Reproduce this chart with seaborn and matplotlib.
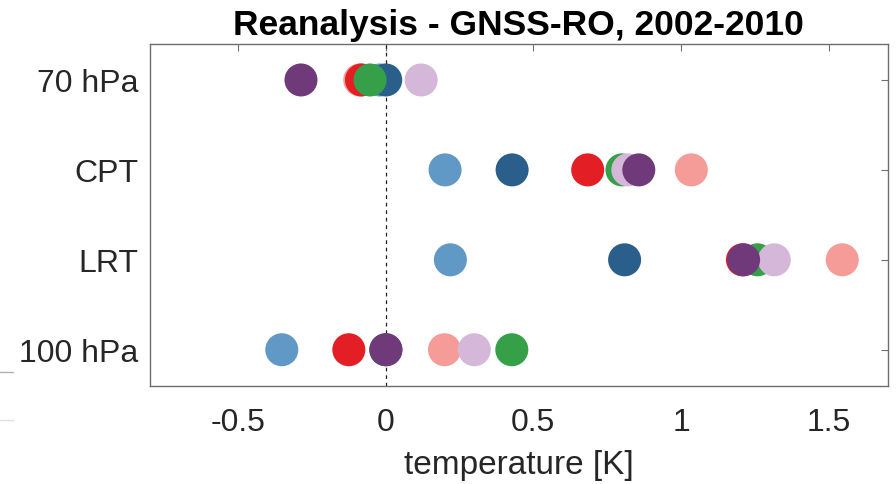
import matplotlib
matplotlib.use("Agg")
import matplotlib.pyplot as plt
import seaborn as sns
import pandas as pd
from matplotlib.lines import Line2D

levels = ["70 hPa", "CPT", "LRT", "100 hPa"]
series = ["S1", "S2", "S3", "S4", "S5", "S6", "S7"]
colors = ["#6098c6", "#2a5f8b", "#f59b98", "#e31e24", "#35a048", "#d5b7d9", "#703a7a"]

# values per series, in the order of levels
s1 = [-0.02, 0.201, 0.219, -0.352]
s2 = [0.0, 0.428, 0.809, 0.0]
s3 = [-0.088, 1.035, 1.546, 0.199]
s4 = [-0.082, 0.684, 1.208, -0.125]
s5 = [-0.053, 0.80, 1.259, 0.427]
s6 = [0.12, 0.82, 1.316, 0.30]
s7 = [-0.287, 0.857, 1.212, 0.001]
values = [s1, s2, s3, s4, s5, s6, s7]

rows = []
for name, vals in zip(series, values):
    for lev, v in zip(levels, vals):
        rows.append({"series": name, "level": lev, "value": v})
df = pd.DataFrame(rows)

sns.set_style("white")
plt.rcParams['font.family'] = ['Liberation Sans', 'DejaVu Sans']

fig = plt.figure(figsize=(8.96, 4.85), dpi=100)
ax = fig.add_axes([149.5/896, 1-386.7/485, (887.7-149.5)/896, (386.7-45)/485])

ax.plot([0]*4, levels, alpha=0)  # register categorical order

for name, col in zip(series, colors):
    sub = df[df["series"] == name]
    sns.scatterplot(data=sub, x="value", y="level", color=col, s=565,
                    edgecolor="none", linewidth=0, ax=ax, legend=False, zorder=3)

ax.axvline(0, color="#222222", linestyle=(0, (3, 3)), linewidth=0.9, zorder=2)

ax.set_xlim(-0.8, 1.7)
ax.set_ylim(3.4, -0.4)
ax.set_xticks([-0.5, 0, 0.5, 1, 1.5])
ax.set_xticklabels(["-0.5", "0", "0.5", "1", "1.5"])
ax.set_yticks([0, 1, 2, 3])
ax.set_yticklabels(levels)

ax.tick_params(axis="both", direction="in", length=5, width=0.8, color="#6e6e6e",
               labelsize=23, labelcolor="#262626", top=True, right=True)
ax.tick_params(axis="x", pad=15)
ax.tick_params(axis="y", pad=8)
for sp in ax.spines.values():
    sp.set_visible(True)
    sp.set_color("#6e6e6e")
    sp.set_linewidth(1.0)

ax.set_xlabel("temperature [K]", fontsize=24, color="#262626", labelpad=9)
ax.set_ylabel("")
ax.set_title("Reanalysis - GNSS-RO, 2002-2010", fontsize=25.5, fontweight="bold",
             color="black", pad=7)

fig.add_artist(Line2D([0, 13/896], [1-372.5/485, 1-372.5/485], color="#b0b0b0", lw=1))
fig.add_artist(Line2D([0, 13/896], [1-421/485, 1-421/485], color="#e0e0e0", lw=1))

fig.savefig("out.png", dpi=100)
